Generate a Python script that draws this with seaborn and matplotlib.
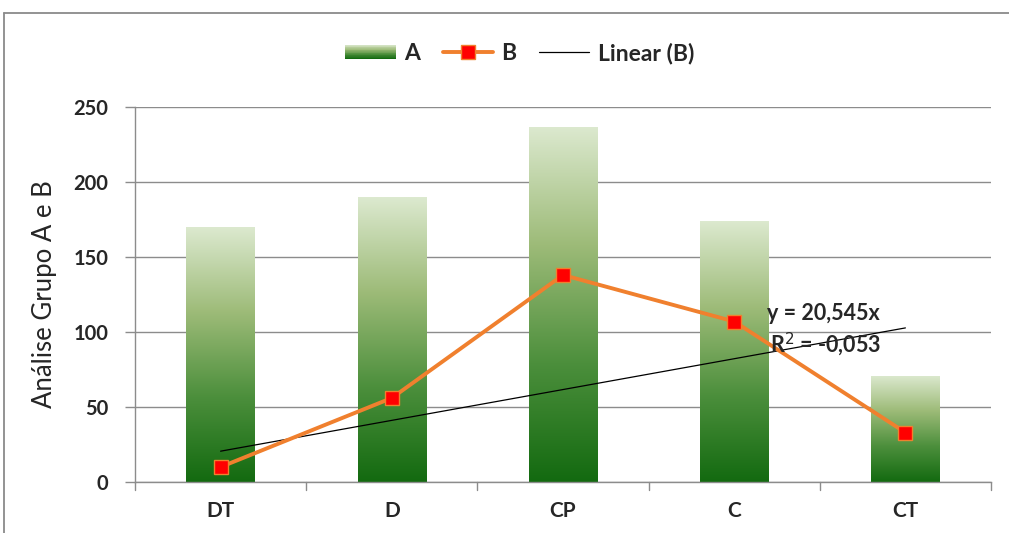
import numpy as np
import pandas as pd
import matplotlib
matplotlib.use("Agg")
import matplotlib.pyplot as plt
import seaborn as sns
from matplotlib.colors import LinearSegmentedColormap
from matplotlib.patches import Rectangle
from matplotlib.lines import Line2D
from matplotlib.legend_handler import HandlerBase

# Data
categories = ["DT", "D", "CP", "C", "CT"]
values_a = [170, 190, 237, 174, 71]
values_b = [10, 56, 138, 107, 33]
trend_slope = 20.545
trend_r2 = -0.053
y_ticks = [0, 50, 100, 150, 200, 250]

sns.set_theme(style="white")
plt.rcParams["font.family"] = ["Lato", "DejaVu Sans"]

green_cmap = LinearSegmentedColormap.from_list(
    "green_grad", ["#136a10", "#4c8f3c", "#9dbb78", "#dce9cf"])
ORANGE = "#f0802e"
GRID = "#8c8c8c"

fig = plt.figure(figsize=(10.09, 5.33), dpi=100)
ax = fig.add_axes([135 / 1009, 51 / 533, 856 / 1009, 375 / 533])

df = pd.DataFrame({"cat": categories, "A": values_a, "B": values_b})

sns.barplot(data=df, x="cat", y="A", ax=ax, width=0.4, color="#6fa050",
            edgecolor="none", zorder=2)

# Vertical gradient fill for each bar
grad = np.linspace(0, 1, 256).reshape(-1, 1)
for p in ax.patches:
    x0, y0 = p.get_x(), p.get_y()
    w, h = p.get_width(), p.get_height()
    im = ax.imshow(grad, cmap=green_cmap, origin="lower", aspect="auto",
                   extent=[x0, x0 + w, y0, y0 + h], zorder=2)
    im.set_clip_path(p)
    p.set_facecolor("none")

xs = np.arange(len(categories))
sns.lineplot(x=xs, y=values_b, ax=ax, color=ORANGE, linewidth=2.8,
             marker="s", markersize=10, markerfacecolor="#ff0000",
             markeredgecolor=ORANGE, markeredgewidth=1.0, zorder=4,
             sort=False)

trend_y = [trend_slope * (i + 1) for i in xs]
ax.plot(xs, trend_y, color="black", linewidth=0.9, zorder=3)

ax.text(3.19, 112, "y = 20,545x", fontsize=15.5, fontweight="bold",
        ha="left", va="center", zorder=5)
ax.text(3.21, 92, "R$^2$ = " + f"{trend_r2:.3f}".replace(".", ","),
        fontsize=15.5, fontweight="bold", ha="left", va="center", zorder=5)

ax.set_xlim(-0.5, len(categories) - 0.5)
ax.set_ylim(0, 250)
ax.set_yticks(y_ticks)
ax.set_yticklabels([str(t) for t in y_ticks], fontsize=14.5,
                   fontweight="bold")
ax.set_xticks(xs)
ax.set_xticklabels(categories, fontsize=15, fontweight="bold")
ax.tick_params(axis="x", length=0, pad=14)
ax.tick_params(axis="y", length=7, width=1, color=GRID, pad=12, left=True,
               direction="out")
# category boundary ticks below the axis
for b in np.arange(-0.5, len(categories), 1.0):
    ax.plot([b, b], [0, -0.022], transform=ax.get_xaxis_transform(),
            color=GRID, linewidth=1, clip_on=False)

ax.yaxis.grid(True, color=GRID, linewidth=1)
ax.set_axisbelow(True)
for s in ["top", "right"]:
    ax.spines[s].set_visible(False)
for s in ["left", "bottom"]:
    ax.spines[s].set_color(GRID)
    ax.spines[s].set_linewidth(1)

ax.set_xlabel("")
ax.set_ylabel("Análise Grupo A e B", fontsize=18.5, labelpad=12)


class GradientHandler(HandlerBase):
    def create_artists(self, legend, orig_handle, xdescent, ydescent,
                       width, height, fontsize, trans):
        n = 20
        arts = []
        for i in range(n):
            c = green_cmap(1 - i / (n - 1))
            r = Rectangle((-xdescent, -ydescent + height * (1 - (i + 1) / n)),
                          width, height / n, facecolor=c, edgecolor="none",
                          transform=trans)
            arts.append(r)
        return arts


handle_a = Rectangle((0, 0), 1, 1)
handle_b = Line2D([], [], color=ORANGE, linewidth=2.8, marker="s",
                  markersize=10, markerfacecolor="#ff0000",
                  markeredgecolor=ORANGE)
handle_t = Line2D([], [], color="black", linewidth=0.9)
leg = fig.legend([handle_a, handle_b, handle_t], ["A", "B", "Linear (B)"],
                 handler_map={Rectangle: GradientHandler()},
                 loc="center", bbox_to_anchor=(0.515, 1 - 53 / 533), ncol=3,
                 frameon=False, handlelength=2.2, handleheight=0.6,
                 columnspacing=1.0, handletextpad=0.35,
                 prop={"family": ["Lato", "DejaVu Sans"], "weight": "bold",
                       "size": 16.5})

# outer chart frame
fx = 4 / 1009
fy = 1 - 13 / 533
fig.add_artist(Line2D([fx, 1.0], [fy, fy], color="#8a8a8a", linewidth=1.3,
                      transform=fig.transFigure))
fig.add_artist(Line2D([fx, fx], [0.0, fy], color="#8a8a8a", linewidth=1.3,
                      transform=fig.transFigure))

fig.savefig("out.png", dpi=100)
